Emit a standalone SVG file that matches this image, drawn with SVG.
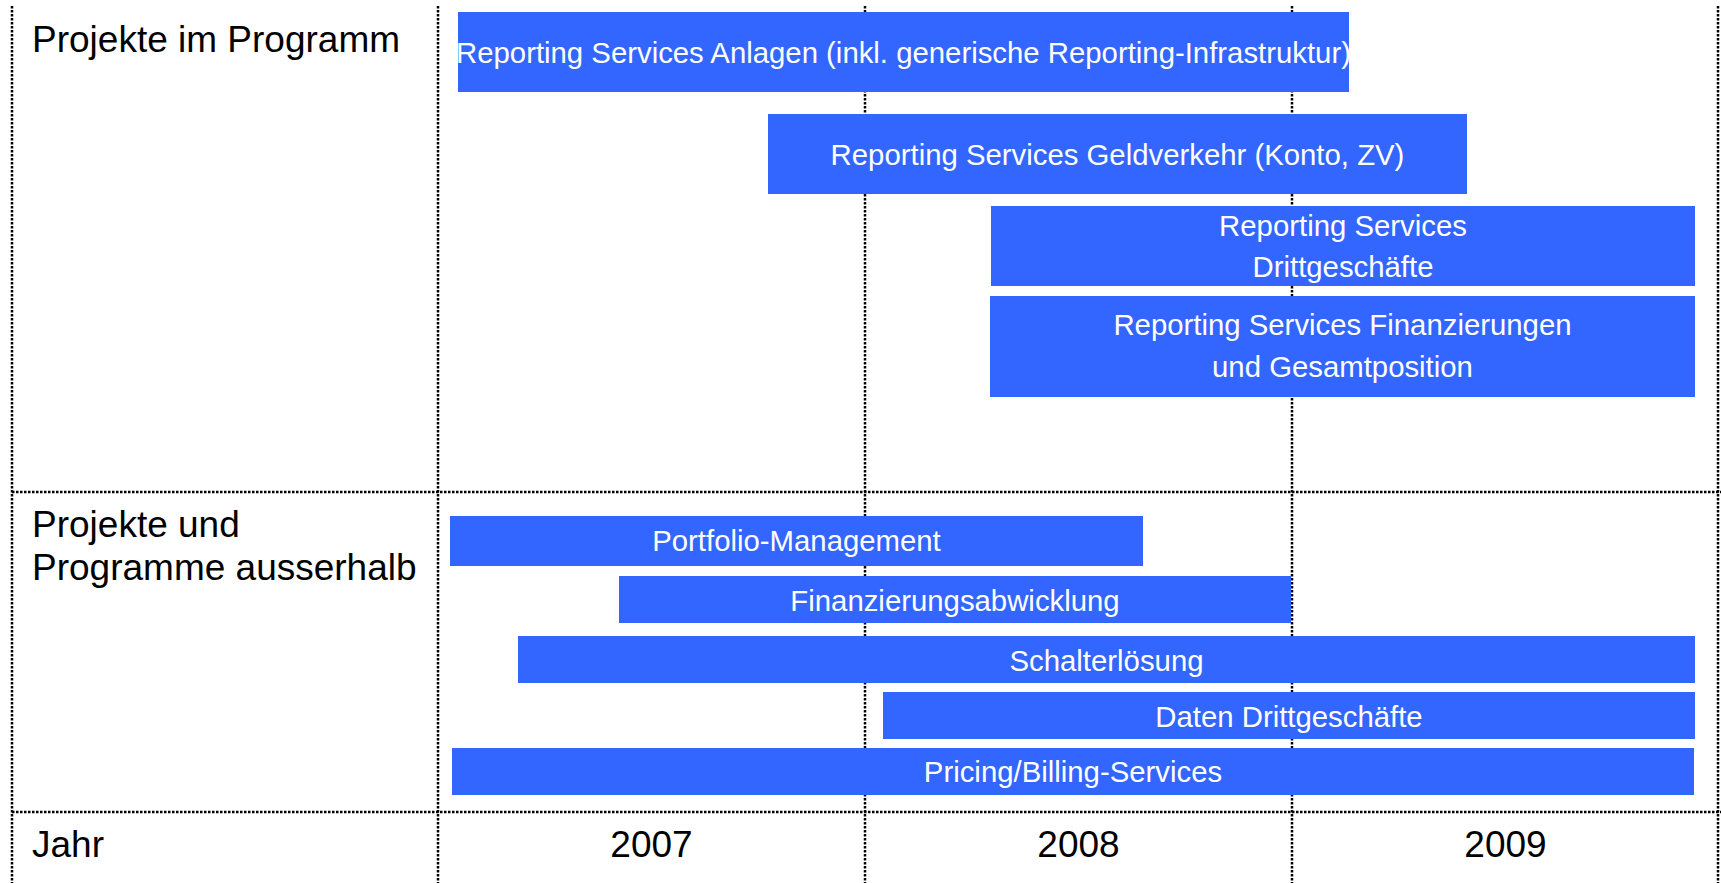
<svg xmlns="http://www.w3.org/2000/svg" width="1721" height="883" viewBox="0 0 1721 883">
<style>
.bg{fill:#ffffff}
.grid line{stroke:#000000;stroke-width:2.5;stroke-dasharray:2.5 1.5}
.bar{fill:#3366FF}
.bt{font-family:"Liberation Sans",Arial,sans-serif;font-size:29.33px;fill:#ffffff;text-anchor:middle}
.lt{font-family:"Liberation Sans",Arial,sans-serif;font-size:37px;fill:#000000}
.yt{font-family:"Liberation Sans",Arial,sans-serif;font-size:37px;fill:#000000;text-anchor:middle}
</style>
<rect class="bg" x="0" y="0" width="1721" height="883"/>
<g id="grid" class="grid">
<line x1="12" y1="6" x2="12" y2="883"/>
<line x1="438" y1="6" x2="438" y2="883"/>
<line x1="865" y1="6" x2="865" y2="883"/>
<line x1="1292" y1="6" x2="1292" y2="883"/>
<line x1="1718" y1="6" x2="1718" y2="883"/>
<line x1="12" y1="492" x2="1721" y2="492"/>
<line x1="12" y1="812" x2="1721" y2="812"/>
</g>
<g id="labels">
<text class="lt" x="32" y="52">Projekte im Programm</text>
<text class="lt" x="32" y="537">Projekte und</text>
<text class="lt" x="32" y="580">Programme ausserhalb</text>
<text class="lt" x="32" y="857">Jahr</text>
<text class="yt" x="651.5" y="857">2007</text>
<text class="yt" x="1078.5" y="857">2008</text>
<text class="yt" x="1505.5" y="857">2009</text>
</g>
<g id="bar-anlagen">
<rect class="bar" x="458" y="12" width="891" height="80"/>
<text class="bt" x="903.5" y="63">Reporting Services Anlagen (inkl. generische Reporting-Infrastruktur)</text>
</g>
<g id="bar-geldverkehr">
<rect class="bar" x="768" y="114" width="699" height="80"/>
<text class="bt" x="1117.5" y="165">Reporting Services Geldverkehr (Konto, ZV)</text>
</g>
<g id="bar-drittgeschaefte">
<rect class="bar" x="991" y="206" width="704" height="80"/>
<text class="bt" x="1343" y="236">Reporting Services</text>
<text class="bt" x="1343" y="277">Drittgeschäfte</text>
</g>
<g id="bar-finanzierungen">
<rect class="bar" x="990" y="296" width="705" height="101"/>
<text class="bt" x="1342.5" y="335">Reporting Services Finanzierungen</text>
<text class="bt" x="1342.5" y="377">und Gesamtposition</text>
</g>
<g id="bar-portfolio">
<rect class="bar" x="450" y="516" width="693" height="50"/>
<text class="bt" x="796.5" y="551">Portfolio-Management</text>
</g>
<g id="bar-finanzierungsabwicklung">
<rect class="bar" x="619" y="576" width="672" height="47"/>
<text class="bt" x="955" y="611">Finanzierungsabwicklung</text>
</g>
<g id="bar-schalter">
<rect class="bar" x="518" y="636" width="1177" height="47"/>
<text class="bt" x="1106.5" y="671">Schalterlösung</text>
</g>
<g id="bar-daten">
<rect class="bar" x="883" y="692" width="812" height="47"/>
<text class="bt" x="1289" y="727">Daten Drittgeschäfte</text>
</g>
<g id="bar-pricing">
<rect class="bar" x="452" y="748" width="1242" height="47"/>
<text class="bt" x="1073" y="782">Pricing/Billing-Services</text>
</g>
<g id="connectors"></g>
</svg>
